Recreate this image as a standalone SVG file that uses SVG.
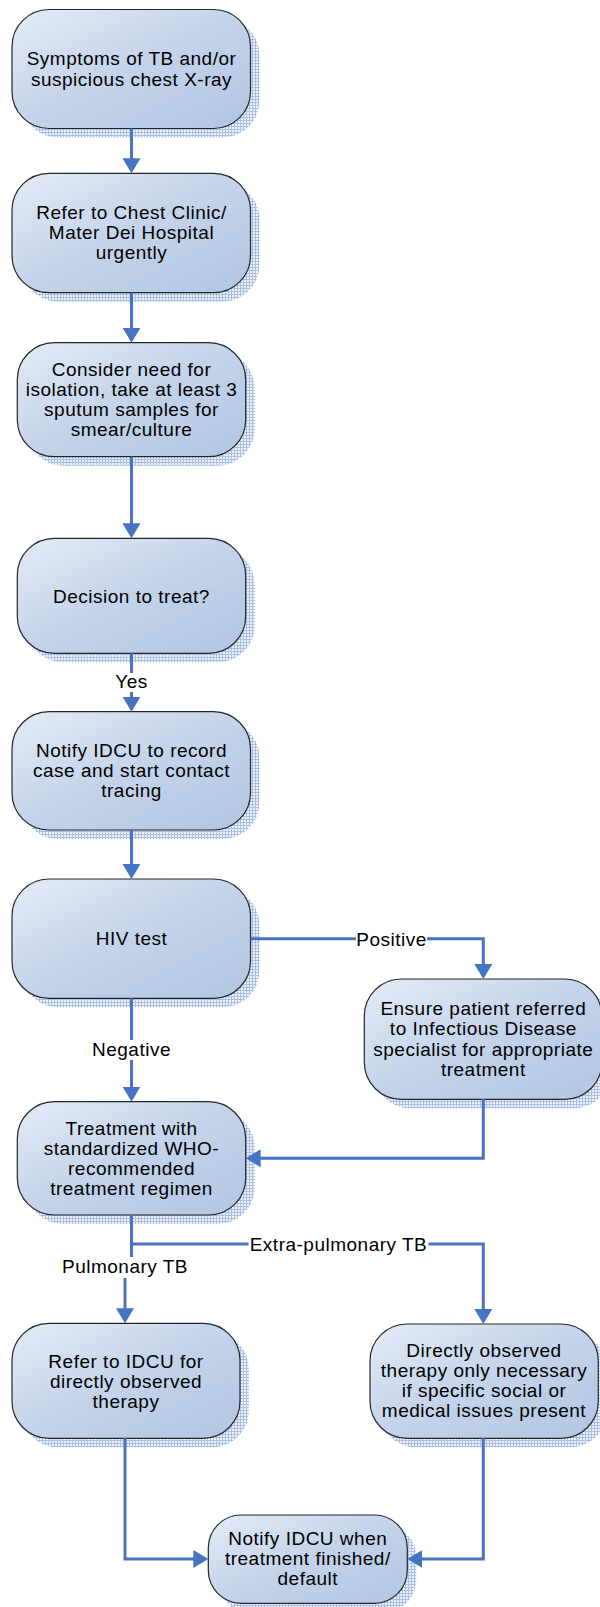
<svg xmlns="http://www.w3.org/2000/svg" width="600" height="1607" viewBox="0 0 600 1607">
<style>
.node{fill:url(#grad);stroke:#262626;stroke-width:1.2}
.shadow{fill:url(#hatch)}
text{font-family:"Liberation Sans",Arial,sans-serif;font-size:19px;letter-spacing:0.5px;fill:#000;text-anchor:middle}
.conn{fill:none;stroke:#4674c3;stroke-width:3;stroke-linejoin:miter;marker-end:url(#arrow)}
.lblbg{fill:#fff}
</style>
<defs>
<linearGradient id="grad" x1="0" y1="0" x2="1" y2="1">
<stop offset="0" stop-color="#e4ebf6"/>
<stop offset="0.5" stop-color="#c4d3ea"/>
<stop offset="1" stop-color="#b2c5e2"/>
</linearGradient>
<pattern id="hatch" width="3" height="3" patternUnits="userSpaceOnUse">
<rect width="3" height="3" fill="#a9bfe4"/>
<rect x="1" y="1" width="2" height="2" fill="#eef2fa"/>
</pattern>
<marker id="arrow" viewBox="0 0 15 18" markerWidth="15" markerHeight="18" refX="7" refY="9" orient="auto" markerUnits="userSpaceOnUse">
<path d="M0,0 L15,9 L0,18 Z" fill="#4674c3"/>
</marker>
</defs>

<g id="n1">
<rect class="shadow" x="21" y="18.5" width="238.5" height="119" rx="37"/>
<rect class="node" x="12" y="9.5" width="238.5" height="119" rx="37"/>
<text x="131.5" y="65.2">Symptoms of TB and/or</text>
<text x="131.5" y="85.7">suspicious chest X-ray</text>
</g>

<g id="n2">
<rect class="shadow" x="21" y="182.3" width="238.5" height="119.4" rx="37"/>
<rect class="node" x="12" y="173.3" width="238.5" height="119.4" rx="37"/>
<text x="131.5" y="218.5">Refer to Chest Clinic/</text>
<text x="131.5" y="239">Mater Dei Hospital</text>
<text x="131.5" y="259">urgently</text>
</g>

<g id="n3">
<rect class="shadow" x="26.3" y="351.7" width="228.4" height="114" rx="37"/>
<rect class="node" x="17.3" y="342.7" width="228.4" height="114" rx="37"/>
<text x="131.5" y="375.8">Consider need for</text>
<text x="131.5" y="395.8">isolation, take at least 3</text>
<text x="131.5" y="415.8">sputum samples for</text>
<text x="131.5" y="435.8">smear/culture</text>
</g>

<g id="n4">
<rect class="shadow" x="26.3" y="547.3" width="228.4" height="115" rx="37"/>
<rect class="node" x="17.3" y="538.3" width="228.4" height="115" rx="37"/>
<text x="131.5" y="602.5">Decision to treat?</text>
</g>

<g id="n5">
<rect class="shadow" x="21" y="720.7" width="238.5" height="118.3" rx="37"/>
<rect class="node" x="12" y="711.7" width="238.5" height="118.3" rx="37"/>
<text x="131.5" y="756.5">Notify IDCU to record</text>
<text x="131.5" y="776.5">case and start contact</text>
<text x="131.5" y="796.5">tracing</text>
</g>

<g id="n6">
<rect class="shadow" x="21" y="888" width="238.5" height="119.3" rx="37"/>
<rect class="node" x="12" y="879" width="238.5" height="119.3" rx="37"/>
<text x="131.5" y="944.5">HIV test</text>
</g>

<g id="n7">
<rect class="shadow" x="373.3" y="988" width="237.5" height="120.3" rx="37"/>
<rect class="node" x="364.3" y="979" width="237.5" height="120.3" rx="37"/>
<text x="483.3" y="1015">Ensure patient referred</text>
<text x="483.3" y="1035">to Infectious Disease</text>
<text x="483.3" y="1055.5">specialist for appropriate</text>
<text x="483.3" y="1075.5">treatment</text>
</g>

<g id="n8">
<rect class="shadow" x="26.3" y="1110.7" width="228.4" height="113.3" rx="37"/>
<rect class="node" x="17.3" y="1101.7" width="228.4" height="113.3" rx="37"/>
<text x="131.5" y="1134.8">Treatment with</text>
<text x="131.5" y="1154.8">standardized WHO-</text>
<text x="131.5" y="1174.8">recommended</text>
<text x="131.5" y="1194.8">treatment regimen</text>
</g>

<g id="n9">
<rect class="shadow" x="21" y="1332.3" width="228" height="115" rx="37"/>
<rect class="node" x="12" y="1323.3" width="228" height="115" rx="37"/>
<text x="126" y="1368">Refer to IDCU for</text>
<text x="126" y="1388">directly observed</text>
<text x="126" y="1408">therapy</text>
</g>

<g id="n10">
<rect class="shadow" x="217.3" y="1524" width="199" height="88.3" rx="33"/>
<rect class="node" x="208.3" y="1515" width="199" height="88.3" rx="33"/>
<text x="307.8" y="1544.8">Notify IDCU when</text>
<text x="307.8" y="1564.8">treatment finished/</text>
<text x="307.8" y="1584.8">default</text>
</g>

<g id="n11">
<rect class="shadow" x="379" y="1333" width="228.3" height="114.3" rx="37"/>
<rect class="node" x="370" y="1324" width="228.3" height="114.3" rx="37"/>
<text x="484" y="1357.2">Directly observed</text>
<text x="484" y="1377.2">therapy only necessary</text>
<text x="484" y="1397.2">if specific social or</text>
<text x="484" y="1417.2">medical issues present</text>
</g>

<g id="connectors">
<path class="conn" d="M131.5,128.5 V165.3"/>
<path class="conn" d="M131.5,292.7 V334.7"/>
<path class="conn" d="M131.5,456.7 V530.3"/>
<path class="conn" d="M131.5,653.3 V703.7"/>
<path class="conn" d="M131.5,830 V871"/>
<path class="conn" d="M250.5,938.7 H483.3 V971"/>
<path class="conn" d="M131.5,998.3 V1093.7"/>
<path class="conn" d="M483.3,1099.3 V1158.3 H253.7"/>
<path class="conn" d="M131.5,1215 V1262 H125 V1315.3"/>
<path class="conn" d="M131.5,1244 H483.3 V1316"/>
<path class="conn" d="M125,1438.3 V1559 H200.3"/>
<path class="conn" d="M483.3,1438.3 V1559 H415.3"/>
</g>

<g id="labels">
<rect class="lblbg" x="114" y="673" width="35" height="19"/>
<text x="131.5" y="688.2">Yes</text>
<rect class="lblbg" x="91" y="1040" width="81" height="20"/>
<text x="131.5" y="1055.8">Negative</text>
<rect class="lblbg" x="61" y="1257" width="128" height="21"/>
<text x="125" y="1273.2">Pulmonary TB</text>
<rect class="lblbg" x="356" y="931" width="71" height="16"/>
<text x="391.5" y="945.5">Positive</text>
<rect class="lblbg" x="248.5" y="1236" width="180" height="16"/>
<text x="338.5" y="1250.5">Extra-pulmonary TB</text>
</g>
</svg>
